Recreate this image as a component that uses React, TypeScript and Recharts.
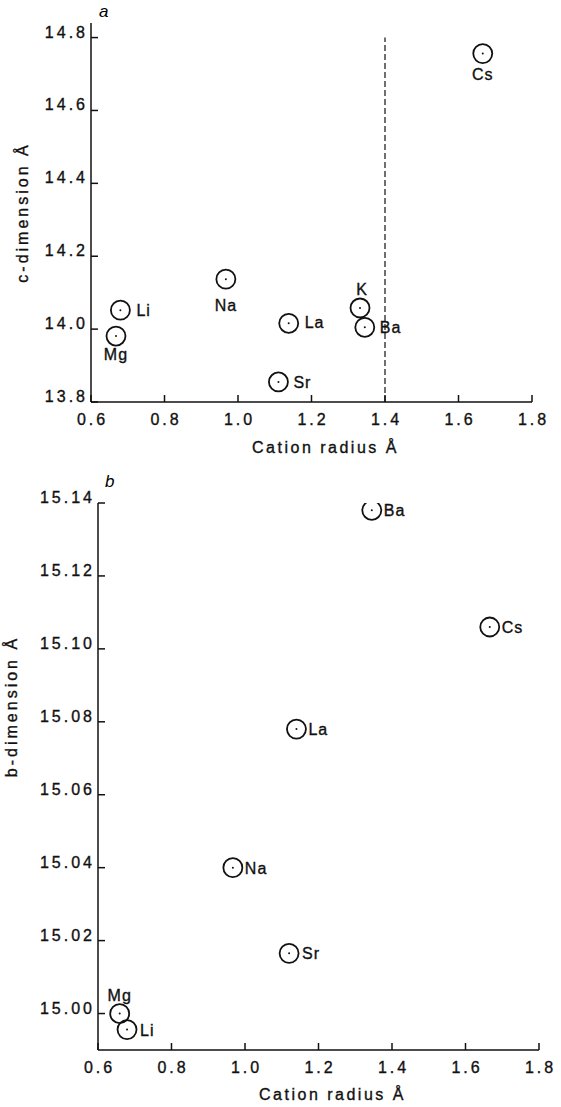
import { ScatterChart, Scatter, XAxis, YAxis, ReferenceLine, Label } from 'recharts';

const INK = '#111';
const FONT = '"Liberation Sans", Arial, Helvetica, sans-serif';

// Panel a: c-dimension against cation radius
const A_ELEMENTS = ['Li', 'Mg', 'Na', 'Sr', 'La', 'K', 'Ba', 'Cs'];
const A_RADIUS = [0.68, 0.668, 0.967, 1.11, 1.138, 1.332, 1.345, 1.666];
const A_C_DIM = [14.052, 13.981, 14.137, 13.855, 14.016, 14.058, 14.005, 14.756];
const A_Y_TICKS = [13.8, 14.0, 14.2, 14.4, 14.6, 14.8];
const A_DIVIDER = 1.4;

// Panel b: b-dimension against cation radius
const B_ELEMENTS = ['Mg', 'Li', 'Na', 'Sr', 'La', 'Ba', 'Cs'];
const B_RADIUS = [0.659, 0.679, 0.967, 1.12, 1.14, 1.345, 1.666];
const B_B_DIM = [15.0, 14.9956, 15.04, 15.0165, 15.078, 15.138, 15.106];
const B_Y_TICKS = [15.0, 15.02, 15.04, 15.06, 15.08, 15.1, 15.12, 15.14];

const X_TICKS = [0.6, 0.8, 1.0, 1.2, 1.4, 1.6, 1.8];

// where each element's name sits relative to its circle: [dx, dy, anchor]
const A_LABEL_POS: Record<string, [number, number, string]> = {
  Li: [16, 6, 'start'],
  Mg: [0, 24, 'middle'],
  Na: [0, 32, 'middle'],
  Sr: [15, 6, 'start'],
  La: [16, 5, 'start'],
  K: [2, -13, 'middle'],
  Ba: [15, 6, 'start'],
  Cs: [0, 26, 'middle'],
};
const B_LABEL_POS: Record<string, [number, number, string]> = {
  Mg: [0, -13, 'middle'],
  Li: [13, 6, 'start'],
  Na: [12, 6, 'start'],
  Sr: [13, 6, 'start'],
  La: [12, 6, 'start'],
  Ba: [12, 6, 'start'],
  Cs: [12, 6, 'start'],
};

const aData = A_ELEMENTS.map((name, i) => ({ name, r: A_RADIUS[i], v: A_C_DIM[i] }));
const bData = B_ELEMENTS.map((name, i) => ({ name, r: B_RADIUS[i], v: B_B_DIM[i] }));

// slight stroke on the glyphs to mimic the heavier printed type
const textStyle = { fontFamily: FONT, fontSize: 16, fill: INK, stroke: INK, strokeWidth: 0.35 };

function LeftTick({ x, y, payload, digits }: any) {
  return (
    <g>
      <line x1={x} y1={y} x2={x + 7} y2={y} stroke={INK} strokeWidth={1.5} />
      <text x={x - 3} y={y} textAnchor="end" letterSpacing={3} {...textStyle}>
        {Number(payload.value).toFixed(digits)}
      </text>
    </g>
  );
}

function BottomTick({ x, y, payload }: any) {
  return (
    <g>
      <line x1={x} y1={y} x2={x} y2={y - 7} stroke={INK} strokeWidth={1.5} />
      <text x={x + 1.5} y={y + 23} textAnchor="middle" letterSpacing={3} {...textStyle}>
        {Number(payload.value).toFixed(1)}
      </text>
    </g>
  );
}

function makeMarker(positions: Record<string, [number, number, string]>) {
  return (props: any) => {
    const { cx, cy, payload } = props;
    const [dx, dy, anchor] = positions[payload.name] || [12, 6, 'start'];
    return (
      <g>
        <circle cx={cx} cy={cy} r={9.5} fill="none" stroke={INK} strokeWidth={1.8} />
        <circle cx={cx} cy={cy} r={1} fill={INK} />
        <text x={cx + dx} y={cy + dy} textAnchor={anchor as any} letterSpacing={1} {...textStyle}>
          {payload.name}
        </text>
      </g>
    );
  };
}

function YTitle({ viewBox, value, x, shift = 0 }: any) {
  const cy = viewBox.y + viewBox.height / 2 + shift;
  return (
    <text
      x={x}
      y={cy}
      transform={`rotate(-90 ${x} ${cy})`}
      textAnchor="middle"
      letterSpacing={3}
      {...textStyle}
    >
      {value}
    </text>
  );
}

function XTitle({ viewBox, dy }: any) {
  const cx = viewBox.x + viewBox.width / 2 + 14;
  return (
    <text x={cx} y={viewBox.y + dy} textAnchor="middle" letterSpacing={2.5} {...textStyle}>
      Cation radius Å
    </text>
  );
}

export default function App() {
  return (
    <div style={{ width: 561, height: 1107, background: '#fff', position: 'relative' }}>
      <style>{'body{margin:0;background:#fff}'}</style>

      <ScatterChart width={561} height={460} margin={{ top: 23, right: 29, bottom: 0, left: 0 }}>
        <XAxis
          type="number"
          dataKey="r"
          domain={[0.6, 1.8]}
          ticks={X_TICKS}
          interval={0}
          allowDataOverflow
          height={58}
          tickSize={0}
          tickMargin={0}
          tickLine={false}
          axisLine={{ stroke: INK, strokeWidth: 1.5 }}
          tick={(p: any) => <BottomTick {...p} />}
        >
          <Label content={(p: any) => <XTitle {...p} dy={51} />} />
        </XAxis>
        <YAxis
          type="number"
          dataKey="v"
          domain={[13.8, 14.84]}
          ticks={A_Y_TICKS}
          interval={0}
          allowDataOverflow
          width={91}
          tickSize={0}
          tickMargin={0}
          tickLine={false}
          axisLine={{ stroke: INK, strokeWidth: 1.5 }}
          tick={(p: any) => <LeftTick {...p} digits={1} />}
        >
          <Label content={(p: any) => <YTitle {...p} x={28} value="c-dimension Å" />} />
        </YAxis>
        <ReferenceLine
          segment={[
            { x: A_DIVIDER, y: 13.8 },
            { x: A_DIVIDER, y: 14.8 },
          ]}
          stroke={INK}
          strokeWidth={1.2}
          strokeDasharray="6 3"
        />
        <Scatter data={aData} isAnimationActive={false} shape={makeMarker(A_LABEL_POS)} />
      </ScatterChart>

      <ScatterChart width={561} height={647} margin={{ top: 43, right: 22, bottom: 0, left: 0 }}>
        <XAxis
          type="number"
          dataKey="r"
          domain={[0.6, 1.8]}
          ticks={X_TICKS}
          interval={0}
          allowDataOverflow
          height={57}
          tickSize={0}
          tickMargin={0}
          tickLine={false}
          axisLine={{ stroke: INK, strokeWidth: 1.5 }}
          tick={(p: any) => <BottomTick {...p} />}
        >
          <Label content={(p: any) => <XTitle {...p} dy={50} />} />
        </XAxis>
        <YAxis
          type="number"
          dataKey="v"
          domain={[14.99, 15.14]}
          ticks={B_Y_TICKS}
          interval={0}
          allowDataOverflow
          width={98}
          tickSize={0}
          tickMargin={0}
          tickLine={false}
          axisLine={{ stroke: INK, strokeWidth: 1.5 }}
          tick={(p: any) => <LeftTick {...p} digits={2} />}
        >
          <Label content={(p: any) => <YTitle {...p} x={17} shift={-70} value="b-dimension Å" />} />
        </YAxis>
        <Scatter data={bData} isAnimationActive={false} shape={makeMarker(B_LABEL_POS)} />
      </ScatterChart>

      <span style={{ position: 'absolute', left: 99, top: 2, fontFamily: FONT, fontSize: 17, fontStyle: 'italic' }}>a</span>
      <span style={{ position: 'absolute', left: 105, top: 472, fontFamily: FONT, fontSize: 17, fontStyle: 'italic' }}>b</span>
    </div>
  );
}
